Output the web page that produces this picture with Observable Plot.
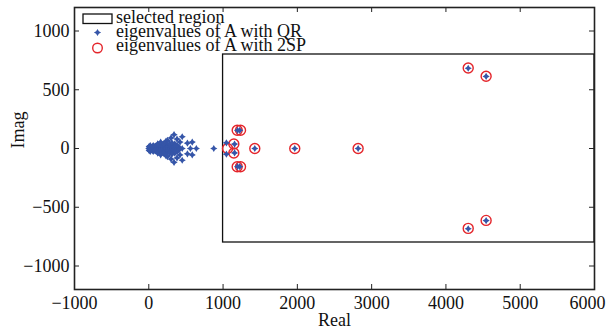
<!DOCTYPE html>
<html><head><meta charset="utf-8">
<script src="https://cdn.jsdelivr.net/npm/d3@7"></script>
<script src="https://cdn.jsdelivr.net/npm/@observablehq/plot@0.6"></script>
<style>
body{margin:0;background:#fff;}
#chart svg{display:block;}
</style>
</head><body><div id="chart"></div>
<script>
// ---- data ----
const xTicks = [-1000, 0, 1000, 2000, 3000, 4000, 5000, 6000];
const yTicks = [-1000, -500, 0, 500, 1000];
const xDomain = [-1000, 6000];
const yDomain = [-1200, 1200];
const xLabel = "Real";
const yLabel = "Imag";
const legendLabels = ["selected region", "eigenvalues of A with QR", "eigenvalues of A with 2SP"];
// selected region
const regionReal = [1000, 6000];
const regionImag = [-800, 800];
// eigenvalues from QR
const qrReal = [
  0, 15, 30, 50, 70, 90, 110, 130, 150, 175, 200, 225, 250, 275, 300, 330, 360, 390, 420, 450,
  10, 40, 70, 100, 130, 160, 190, 220, 250, 280, 310, 340, 370, 400,
  10, 40, 70, 100, 130, 160, 190, 220, 250, 280, 310, 340, 370, 400,
  20, 60, 100, 140, 180, 220, 260, 300, 340, 380,
  20, 60, 100, 140, 180, 220, 260, 300, 340, 380,
  5, 55, 85, 115, 145, 170, 210, 240, 265, 295, 325, 355,
  5, 55, 85, 115, 145, 170, 210, 240, 265, 295, 325, 355,
  120, 200, 280, 350, 120, 200, 280, 350,
  160, 230, 310, 160, 230, 310,
  250, 250, 300, 300, 340, 340, 380, 380, 450, 450, 420, 420, 520, 520, 585, 585, 560, 640,
  875,
  1045, 1045, 1155, 1155, 1195, 1225, 1195, 1225,
  1427, 1965, 2818, 4300, 4541, 4300, 4541
];
const qrImag = [
  0, 0, 0, 0, 0, 0, 0, 0, 0, 0, 0, 0, 0, 0, 0, 0, 0, 0, 0, 0,
  12, 12, 12, 12, 12, 12, 12, 12, 12, 12, 12, 12, 12, 12,
  -12, -12, -12, -12, -12, -12, -12, -12, -12, -12, -12, -12, -12, -12,
  25, 25, 25, 25, 25, 25, 25, 25, 25, 25,
  -25, -25, -25, -25, -25, -25, -25, -25, -25, -25,
  18, 18, 18, 18, 18, 18, 18, 18, 18, 18, 18, 18,
  -18, -18, -18, -18, -18, -18, -18, -18, -18, -18, -18, -18,
  40, 40, 40, 40, -40, -40, -40, -40,
  55, 60, 50, -55, -60, -50,
  70, -70, 90, -90, 118, -118, 80, -80, 100, -100, 55, -55, 45, -45, 55, -55, 0, 0,
  0,
  48, -48, 38, -38, 155, 155, -155, -155,
  0, 0, 0, 683, 613, -683, -613
];
// eigenvalues from 2SP
const spReal = [1060, 1145, 1145, 1190, 1235, 1190, 1235, 1427, 1965, 2818, 4300, 4541, 4300, 4541];
const spImag = [0, 38, -38, 155, 155, -155, -155, 0, 0, 0, 685, 615, -680, -612];

// ---- build tables ----
const qr = qrReal.map((x, i) => ({x, y: qrImag[i]}));
const sp = spReal.map((x, i) => ({x, y: spImag[i]}));
const region = [{x1: regionReal[0], x2: regionReal[1], y1: regionImag[0], y2: regionImag[1]}];

const BLUE = "#3555a8";
const RED = "#e4252b";
const FONT = "Liberation Serif";

// four-point star symbol
const star4 = {
  draw(context, size) {
    const R = Math.sqrt(size / Math.PI);
    const w = R * 0.38;
    context.moveTo(0, -R);
    context.lineTo(w, -w);
    context.lineTo(R, 0);
    context.lineTo(w, w);
    context.lineTo(0, R);
    context.lineTo(-w, w);
    context.lineTo(-R, 0);
    context.lineTo(-w, -w);
    context.closePath();
  }
};

const W = 608, H = 335;
const mL = 74, mR = 14, mT = 7, mB = 46;
const innerW = W - mL - mR, innerH = H - mT - mB;
const TL = 5; // inward tick length
const fmt = d3.format("d");
const lastX = xTicks[xTicks.length - 1];
const STAR_R = 3.6;

const chart = Plot.plot({
  width: W, height: H,
  marginLeft: mL, marginRight: mR, marginTop: mT, marginBottom: mB,
  style: {fontFamily: FONT, fontSize: "18px", color: "#111", background: "#fff"},
  x: {domain: xDomain, label: null},
  y: {domain: yDomain, label: null},
  marks: [
    Plot.rect(region, {x1: "x1", x2: "x2", y1: "y1", y2: "y2", fill: "none", stroke: "#111", strokeWidth: 1.3}),
    Plot.dot(sp, {x: "x", y: "y", r: 5, stroke: RED, strokeWidth: 1.4, fill: "none"}),
    Plot.dot(qr, {x: "x", y: "y", r: STAR_R, symbol: star4, fill: BLUE, stroke: "none"}),
    // inward ticks on all four sides
    Plot.tickX(xTicks, {x: d => d, insetTop: innerH - TL, stroke: "#222", strokeWidth: 1}),
    Plot.tickX(xTicks, {x: d => d, insetBottom: innerH - TL, stroke: "#222", strokeWidth: 1}),
    Plot.tickY(yTicks, {y: d => d, insetRight: innerW - TL, stroke: "#222", strokeWidth: 1}),
    Plot.tickY(yTicks, {y: d => d, insetLeft: innerW - TL, stroke: "#222", strokeWidth: 1}),
    Plot.axisX({anchor: "bottom", ticks: xTicks.filter(d => d !== lastX), tickSize: 0, tickPadding: 7, tickFormat: fmt, label: null}),
    Plot.axisX({anchor: "bottom", ticks: [lastX], tickSize: 0, tickPadding: 7, tickFormat: fmt, label: null, dx: -7}),
    Plot.axisY({anchor: "left", ticks: yTicks, tickSize: 0, tickPadding: 5, tickFormat: fmt, label: null}),
    Plot.frame({stroke: "#222", strokeWidth: 1.6}),
    Plot.text([xLabel], {frameAnchor: "bottom", dy: 36, fill: "#111"}),
    Plot.text([yLabel], {frameAnchor: "left", dx: -56, rotate: -90, fill: "#111"})
  ]
});

// ---- legend (inside plot, top-left) ----
const svg = d3.select(chart);
const lg = svg.append("g").attr("font-family", FONT).attr("font-size", 18)
  .attr("fill", "#111").attr("text-anchor", "start");
const lx = 116, baselines = [22.5, 36.7, 50.5];
lg.append("rect").attr("x", 83).attr("y", 14).attr("width", 29).attr("height", 9.5)
  .attr("fill", "none").attr("stroke", "#111").attr("stroke-width", 1.3);
const p = d3.path(); star4.draw(p, STAR_R * STAR_R * Math.PI);
lg.append("path").attr("d", p.toString()).attr("transform", "translate(97.5,32.5)").attr("fill", BLUE);
lg.append("circle").attr("cx", 97.5).attr("cy", 48).attr("r", 4.8)
  .attr("fill", "none").attr("stroke", RED).attr("stroke-width", 1.4);
legendLabels.forEach((t, i) => {
  lg.append("text").attr("x", lx).attr("y", baselines[i]).text(t);
});

document.getElementById("chart").appendChild(chart);
</script>
</body></html>
